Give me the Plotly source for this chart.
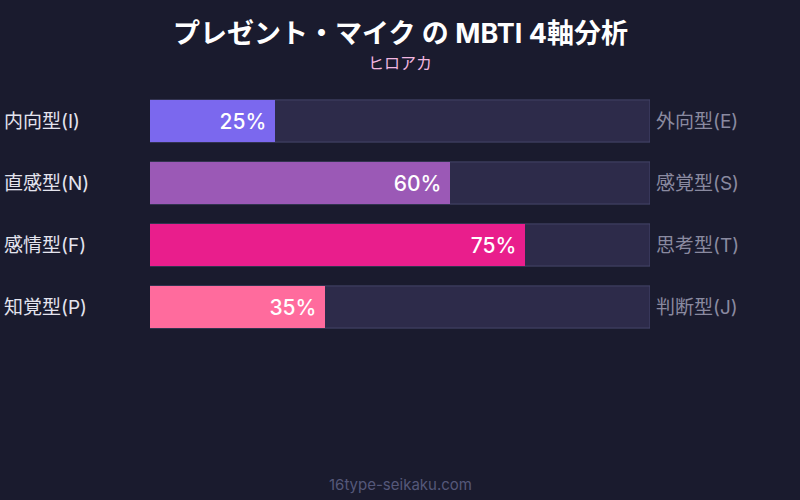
import plotly.graph_objects as go

left_labels = ["内向型(I)", "直感型(N)", "感情型(F)", "知覚型(P)"]
right_labels = ["外向型(E)", "感覚型(S)", "思考型(T)", "判断型(J)"]
values = [25, 60, 75, 35]
colors = ["#7b68ee", "#9b59b6", "#e91e8c", "#ff6b9d"]
track_max = [100, 100, 100, 100]

title = "プレゼント・マイク の MBTI 4軸分析"
subtitle = "ヒロアカ"
footer = "16type-seikaku.com"

FONT = "Inter, 'Noto Sans CJK JP', sans-serif"
BG = "#1a1b2e"

fig = go.Figure()
fig.add_trace(go.Bar(
    x=track_max, y=left_labels, orientation="h", width=0.68,
    marker=dict(color="#2d2b4a", line=dict(color="#45456a", width=1), cornerradius=0),
    hoverinfo="skip", showlegend=False,
))
fig.add_trace(go.Bar(
    x=values, y=left_labels, orientation="h", width=0.68,
    marker=dict(color=colors, line=dict(width=0), cornerradius=8),
    text=[f"{v}% " for v in values], textposition="inside", insidetextanchor="end",
    textfont=dict(color="white", size=21, family=FONT, weight=500),
    showlegend=False,
))

for i, (l, r) in enumerate(zip(left_labels, right_labels)):
    fig.add_annotation(x=-0.296, y=l, xref="paper", yref="y", text=l, showarrow=False,
                       xanchor="left", yanchor="middle",
                       font=dict(color="#e4e4ee", size=19, family=FONT))
    fig.add_annotation(x=1, y=l, xref="paper", yref="y", text=r, showarrow=False,
                       xanchor="left", yanchor="middle", xshift=4,
                       font=dict(color="#8a8aa0", size=19, family=FONT))

fig.add_annotation(x=0.5, y=1, xref="paper", yref="paper", yshift=57, text=f"<b>{title}</b>",
                   showarrow=False, xanchor="center", yanchor="middle",
                   font=dict(color="white", size=27, family=FONT))
fig.add_annotation(x=0.5, y=1, xref="paper", yref="paper", yshift=27, text=subtitle,
                   showarrow=False, xanchor="center", yanchor="middle",
                   font=dict(color="#f2b6e0", size=16, family=FONT))
fig.add_annotation(x=0.5, y=0, xref="paper", yref="paper", yshift=-146, text=footer,
                   showarrow=False, xanchor="center", yanchor="middle",
                   font=dict(color="#55587a", size=15, family=FONT))

fig.update_layout(
    width=800, height=500, paper_bgcolor=BG, plot_bgcolor=BG,
    margin=dict(l=150, r=150, t=90, b=162),
    barmode="overlay",
    xaxis=dict(range=[0, 100], visible=False, fixedrange=True),
    yaxis=dict(type="category", range=[3.5, -0.5], visible=False, fixedrange=True),
    font=dict(family=FONT),
)
fig.write_html("out.html", config={"displayModeBar": False},
               post_script="document.body.style.margin='0';document.body.style.background='#1a1b2e';")
